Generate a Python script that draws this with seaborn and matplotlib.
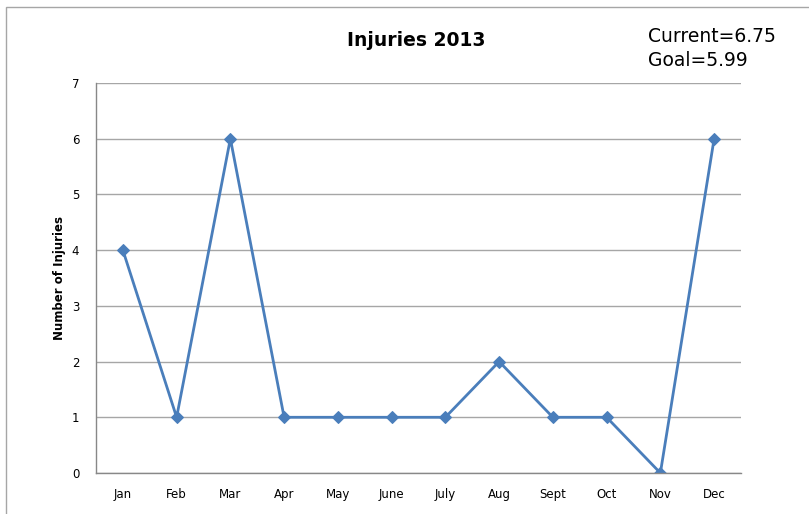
import matplotlib
matplotlib.use("Agg")
import matplotlib.pyplot as plt
import seaborn as sns
import pandas as pd
from matplotlib.patches import Rectangle

months = ["Jan", "Feb", "Mar", "Apr", "May", "June", "July", "Aug", "Sept", "Oct", "Nov", "Dec"]
injuries = [4, 1, 6, 1, 1, 1, 1, 2, 1, 1, 0, 6]
y_ticks = [0, 1, 2, 3, 4, 5, 6, 7]

sns.set_style("white")
plt.rcParams["font.family"] = ["DejaVu Sans"]
plt.rcParams["text.color"] = "black"
plt.rcParams["axes.labelcolor"] = "black"

df = pd.DataFrame({"month": months, "injuries": injuries})
df["pos"] = range(len(months))

fig = plt.figure(figsize=(8.09, 5.14), dpi=100)
ax = fig.add_axes([96 / 809, 1 - 473 / 514, 645 / 809, 390 / 514])

# outer chart frame (top and left edges visible)
fig.patches.append(Rectangle((6 / 809, -0.1), 1.2, 1 - 7 / 514 + 0.1,
                             transform=fig.transFigure, fill=False,
                             edgecolor="#a6a6a6", linewidth=1))

sns.lineplot(data=df, x="pos", y="injuries", ax=ax, color="#4a7ebb",
             linewidth=2, marker="D", markersize=6.5, markeredgecolor="#4a7ebb")

ax.set_xlim(-0.5, len(months) - 0.5)
ax.set_ylim(0, 7)
ax.set_yticks(y_ticks)
ax.set_xticks(range(len(months)))
ax.set_xticklabels(months)
ax.tick_params(axis="y", labelsize=8.5, length=0, pad=12, colors="black")
ax.tick_params(axis="x", labelsize=8.5, length=0, pad=11, colors="black")
ax.grid(axis="y", color="#a6a6a6", linewidth=1)
ax.set_axisbelow(True)
for side in ["top", "right"]:
    ax.spines[side].set_visible(False)
for side in ["left", "bottom"]:
    ax.spines[side].set_color("#888888")
    ax.spines[side].set_linewidth(1)
ax.set_xlabel("")
ax.set_ylabel("Number of Injuries", fontsize=8.5, fontweight="bold", labelpad=4)

fig.text(416 / 809, 1 - 40 / 514, "Injuries 2013", ha="center", va="center",
         fontsize=13.5, fontweight="bold")
fig.text(648 / 809, 1 - 36 / 514, "Current=6.75", ha="left", va="center", fontsize=13.5)
fig.text(648 / 809, 1 - 61 / 514, "Goal=5.99", ha="left", va="center", fontsize=13.5)

fig.savefig("out.png", dpi=100)
